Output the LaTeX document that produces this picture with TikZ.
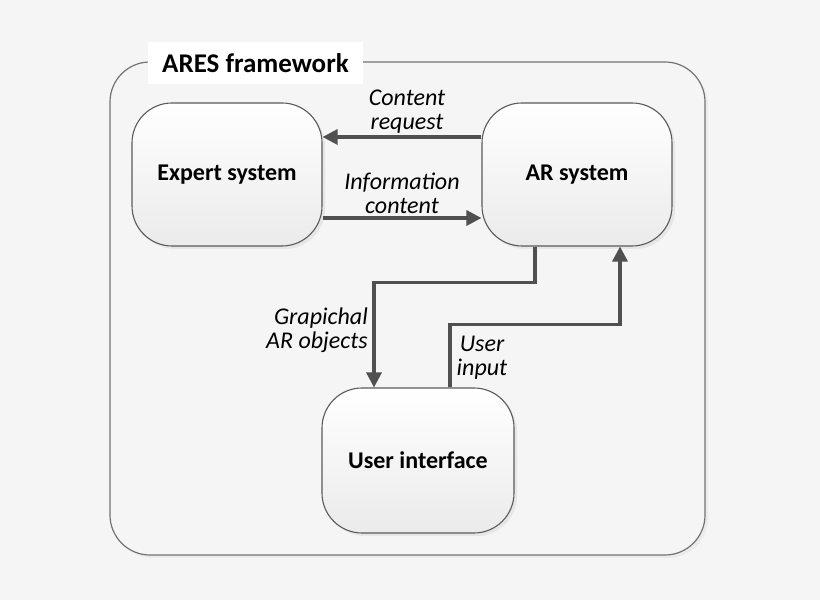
\documentclass[tikz,border=0pt]{standalone}
\usepackage{fontspec}
\setmainfont{Carlito}
\usetikzlibrary{arrows.meta,shadows}
\definecolor{bg}{HTML}{F5F5F5}
\definecolor{edge}{HTML}{5A5A5A}
\definecolor{flowc}{HTML}{505050}
\begin{document}
\begin{tikzpicture}[x=1bp,y=1bp,
	block/.style={draw=edge, line width=1.1bp, rounded corners=40bp, minimum width=190bp, minimum height=143bp,
		top color=white, bottom color=black!8, drop shadow={opacity=0.12, shadow xshift=3bp, shadow yshift=-3bp},
		font=\fontsize{24bp}{28bp}\selectfont\bfseries},
	flow/.style={draw=flowc, line width=3.2bp, -{Triangle[length=15bp,width=15bp]}},
	lbl/.style={align=center, inner sep=0pt, font=\fontsize{24bp}{24bp}\selectfont\itshape}]
\fill[bg] (0,0) rectangle (820,600);
\useasboundingbox (0,0) rectangle (820,600);
\draw[edge!85, line width=1.2bp, rounded corners=40bp, drop shadow={opacity=0.08, shadow xshift=3bp, shadow yshift=-3bp}, fill=bg]
	(110,45) rectangle (705,538);
\node[fill=white, minimum width=215bp, minimum height=42bp, font=\fontsize{27bp}{30bp}\selectfont\bfseries]
	(title) at (255.5,537) {ARES framework};

\node[block] (es) at (227,425.5) {Expert system};
\node[block] (ar) at (577,425.5) {AR system};
\node[block, minimum width=192bp, minimum height=145bp] (ui) at (418,139.5) {User interface};

\draw[flow] ([yshift=37.5bp]ar.west) -- ([yshift=37.5bp]es.east);
\draw[flow] ([yshift=-43.5bp]es.east) -- ([yshift=-43.5bp]ar.west);
\draw[flow] ([xshift=-42bp]ar.south) -- ++(0,-36) -| ([xshift=-44bp]ui.north);
\draw[flow] ([xshift=32bp]ui.north) -- ++(0,63) -| ([xshift=43bp]ar.south);

\node[lbl] (lblreq) at (407,488) {Content\\request};
\node[lbl] (lblinfo) at (402,407) {Information\\content};
\node[lbl, align=right, anchor=east] (lblgraph) at (368,270) {Grapichal\\AR objects};
\node[lbl] (lbluser) at (482,242) {User\\input};
\end{tikzpicture}
\end{document}
